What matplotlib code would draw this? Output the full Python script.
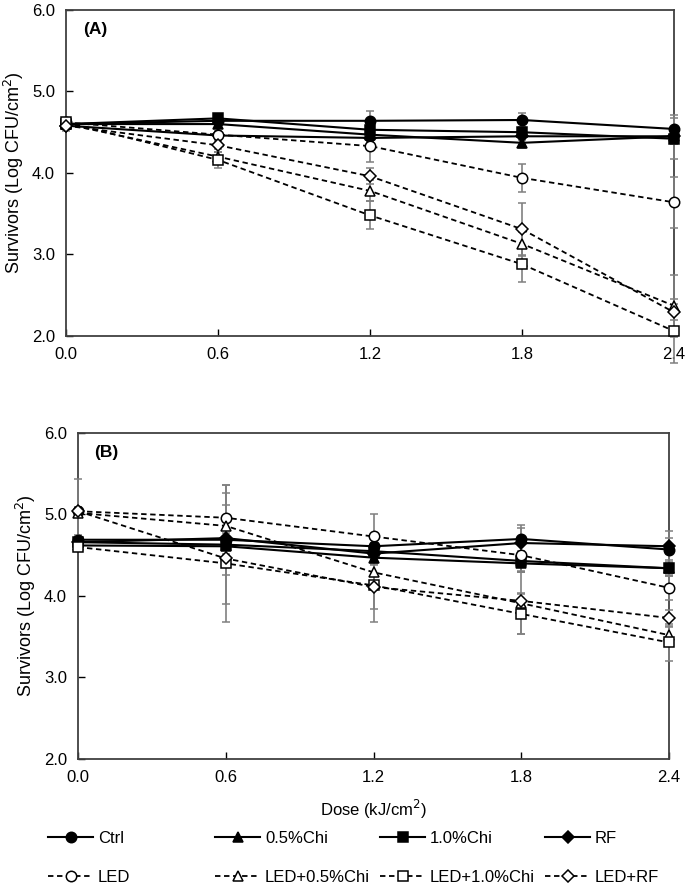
import matplotlib.pyplot as plt
import matplotlib.ticker as mticker

plt.rcParams['font.family'] = ['Liberation Sans', 'DejaVu Sans']

# 剂量 (kJ/cm2)
dose = [0.0, 0.6, 1.2, 1.8, 2.4]
dose_ticks = [0.0, 0.6, 1.2, 1.8, 2.4]
y_ticks = [2.0, 3.0, 4.0, 5.0, 6.0]

labels = ['Ctrl', '0.5%Chi', '1.0%Chi', 'RF',
          'LED', 'LED+0.5%Chi', 'LED+1.0%Chi', 'LED+RF']

# (A) 存活数 (Log CFU/cm2)
ctrl_a = [4.60, 4.64, 4.64, 4.65, 4.54]
chi05_a = [4.60, 4.60, 4.47, 4.37, 4.45]
chi10_a = [4.60, 4.67, 4.53, 4.50, 4.42]
rf_a = [4.58, 4.46, 4.43, 4.45, 4.45]
led_a = [4.62, 4.47, 4.33, 3.94, 3.64]
led_chi05_a = [4.60, 4.20, 3.78, 3.13, 2.37]
led_chi10_a = [4.62, 4.16, 3.48, 2.88, 2.06]
led_rf_a = [4.58, 4.34, 3.96, 3.31, 2.29]

ctrl_a_err = [0.08, 0.07, 0.12, 0.09, 0.17]
chi05_a_err = [0.05, 0.05, 0.05, 0.06, 0.10]
chi10_a_err = [0.05, 0.05, 0.06, 0.06, 0.25]
rf_a_err = [0.05, 0.05, 0.05, 0.05, 0.05]
led_a_err = [0.05, 0.05, 0.20, 0.17, 0.31]
led_chi05_a_err = [0.05, 0.06, 0.13, 0.15, 0.38]
led_chi10_a_err = [0.06, 0.10, 0.17, 0.22, 0.39]
led_rf_a_err = [0.05, 0.05, 0.10, 0.32, 0.10]

# (B)
ctrl_b = [4.69, 4.69, 4.61, 4.70, 4.57]
chi05_b = [4.62, 4.61, 4.47, 4.40, 4.34]
chi10_b = [4.66, 4.63, 4.55, 4.43, 4.34]
rf_b = [4.66, 4.71, 4.52, 4.65, 4.61]
led_b = [5.04, 4.96, 4.73, 4.50, 4.10]
led_chi05_b = [5.02, 4.86, 4.29, 3.91, 3.52]
led_chi10_b = [4.60, 4.40, 4.13, 3.78, 3.43]
led_rf_b = [5.04, 4.46, 4.11, 3.94, 3.73]

ctrl_b_err = [0.06, 0.08, 0.10, 0.17, 0.23]
chi05_b_err = [0.05, 0.10, 0.08, 0.10, 0.08]
chi10_b_err = [0.05, 0.73, 0.10, 0.12, 0.10]
rf_b_err = [0.05, 0.10, 0.06, 0.19, 0.10]
led_b_err = [0.05, 0.30, 0.28, 0.20, 0.15]
led_chi05_b_err = [0.42, 0.50, 0.15, 0.38, 0.10]
led_chi10_b_err = [0.05, 0.72, 0.45, 0.25, 0.23]
led_rf_b_err = [0.05, 0.20, 0.27, 0.10, 0.10]

# 样式: 实线实心 / 虚线空心
markers = ['o', '^', 's', 'D', 'o', '^', 's', 'D']
msizes = [7.5, 7.5, 7.5, 6, 7.5, 7.5, 7.5, 6]


def draw_panel(ax, series, errs, tag):
    handles = []
    for i, (y, e) in enumerate(zip(series, errs)):
        solid = i < 4
        eb = ax.errorbar(dose, y, yerr=e, color='black', ecolor='#808080',
                         elinewidth=1.2, capsize=3, capthick=1.2,
                         linestyle='-' if solid else (0, (3, 2)),
                         linewidth=1.5 if solid else 1.3,
                         marker=markers[i], markersize=msizes[i],
                         markerfacecolor='black' if solid else 'white',
                         markeredgecolor='black', markeredgewidth=1.1,
                         label=labels[i], clip_on=False, zorder=3)
        handles.append(eb[0])
    ax.set_xlim(0, 2.4)
    ax.set_ylim(2.0, 6.0)
    ax.set_xticks(dose_ticks)
    ax.set_yticks(y_ticks)
    ax.xaxis.set_major_formatter(mticker.FormatStrFormatter('%.1f'))
    ax.yaxis.set_major_formatter(mticker.FormatStrFormatter('%.1f'))
    ax.tick_params(direction='in', length=5, width=1, labelsize=12, pad=8)
    for s in ax.spines.values():
        s.set_linewidth(1.3)
        s.set_color('#404040')
    ax.set_ylabel('Survivors (Log CFU/cm$^2$)', fontsize=13, labelpad=4)
    ax.text(0.028, 0.94, tag, transform=ax.transAxes, fontsize=12.5,
            fontweight='bold', va='center', ha='left')
    return handles


fig = plt.figure(figsize=(6.85, 8.9), dpi=100)
ax1 = fig.add_axes([0.0964, 0.6225, 0.8876, 0.3663])
ax2 = fig.add_axes([0.1139, 0.1472, 0.8628, 0.3663])

h = draw_panel(ax1,
               [ctrl_a, chi05_a, chi10_a, rf_a, led_a, led_chi05_a, led_chi10_a, led_rf_a],
               [ctrl_a_err, chi05_a_err, chi10_a_err, rf_a_err,
                led_a_err, led_chi05_a_err, led_chi10_a_err, led_rf_a_err], '(A)')
draw_panel(ax2,
           [ctrl_b, chi05_b, chi10_b, rf_b, led_b, led_chi05_b, led_chi10_b, led_rf_b],
           [ctrl_b_err, chi05_b_err, chi10_b_err, rf_b_err,
            led_b_err, led_chi05_b_err, led_chi10_b_err, led_rf_b_err], '(B)')
ax2.set_xlabel('Dose (kJ/cm$^2$)', fontsize=12, labelpad=9)

# 图例: 4 列, 每列两行
col_x = [48, 215, 380, 545]
for c in range(4):
    fig.legend([h[c], h[c + 4]], [labels[c], labels[c + 4]],
               loc='upper left', bbox_to_anchor=(col_x[c] / 685, 1 - 831 / 890),
               frameon=False, fontsize=12, handlelength=2.7, handletextpad=0.3,
               labelspacing=1.45, borderpad=0, borderaxespad=0, numpoints=1)

fig.savefig('out.png', dpi=100)
